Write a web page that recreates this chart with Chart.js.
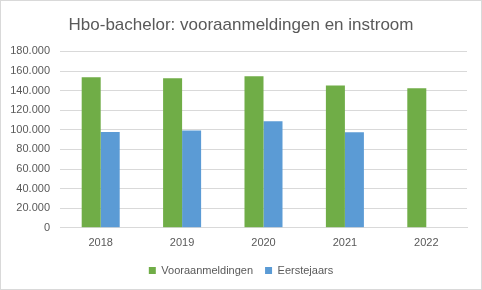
<!DOCTYPE html>
<html>
<head>
<meta charset="utf-8">
<script src="https://cdn.jsdelivr.net/npm/chart.js@4"></script>
<style>
  body { margin: 0; background: #fff; }
  .box { width: 480px; height: 288px; border: 1px solid #d9d9d9; }
</style>
</head>
<body>
<div class="box"><canvas id="hbo" width="480" height="288"></canvas></div>
<script>
const years = ['2018', '2019', '2020', '2021', '2022'];
const vooraanmeldingen = [153600, 152600, 154600, 145200, 142400];
const eerstejaars = [97700, 99400, 108800, 97400, null];
const yTicks = [0, 20000, 40000, 60000, 80000, 100000, 120000, 140000, 160000, 180000];

const fmt = v => v.toLocaleString('nl-NL');
const font = "'Liberation Sans', Arial, sans-serif";

const ctx = document.getElementById('hbo').getContext('2d');

new Chart(ctx, {
  type: 'bar',
  data: {
    labels: years,
    datasets: [{
      label: 'Vooraanmeldingen',
      data: vooraanmeldingen,
      backgroundColor: '#70ad47',
      borderWidth: 0
    }, {
      label: 'Eerstejaars',
      data: eerstejaars,
      backgroundColor: '#5b9bd5',
      borderWidth: 0
    }]
  },
  options: {
    responsive: false,
    animation: false,
    layout: { padding: { left: 0, right: 0, top: 7, bottom: 3 } },
    datasets: { bar: { categoryPercentage: 0.467, barPercentage: 1 } },
    plugins: {
      title: {
        display: true,
        text: 'Hbo-bachelor: vooraanmeldingen en instroom',
        color: '#595959',
        font: { family: font, size: 17, weight: 'normal' },
        padding: { top: 7, bottom: 16 }
      },
      legend: {
        position: 'bottom',
        labels: {
          color: '#595959',
          font: { family: font, size: 11 },
          boxWidth: 7,
          boxHeight: 7,
          padding: 12
        }
      },
      tooltip: { enabled: false }
    },
    scales: {
      x: {
        afterFit: s => { s.height += 2; },
        grid: { display: false },
        border: { color: '#d9d9d9' },
        ticks: { color: '#595959', font: { family: font, size: 11 }, padding: 1 }
      },
      y: {
        min: 0,
        max: 180000,
        afterBuildTicks: s => { s.ticks = yTicks.map(v => ({ value: v })); },
        afterFit: s => { s.width = 59; },
        grid: { color: '#d9d9d9', drawTicks: false },
        border: { display: false },
        ticks: {
          color: '#595959',
          font: { family: font, size: 11 },
          padding: 10,
          callback: v => fmt(v)
        }
      },
      // lege as rechts, alleen voor de witruimte naast het plotgebied
      yRight: {
        position: 'right',
        display: true,
        afterFit: s => { s.width = 14; },
        grid: { display: false },
        border: { display: false },
        ticks: { display: false }
      }
    }
  }
});
</script>
</body>
</html>
